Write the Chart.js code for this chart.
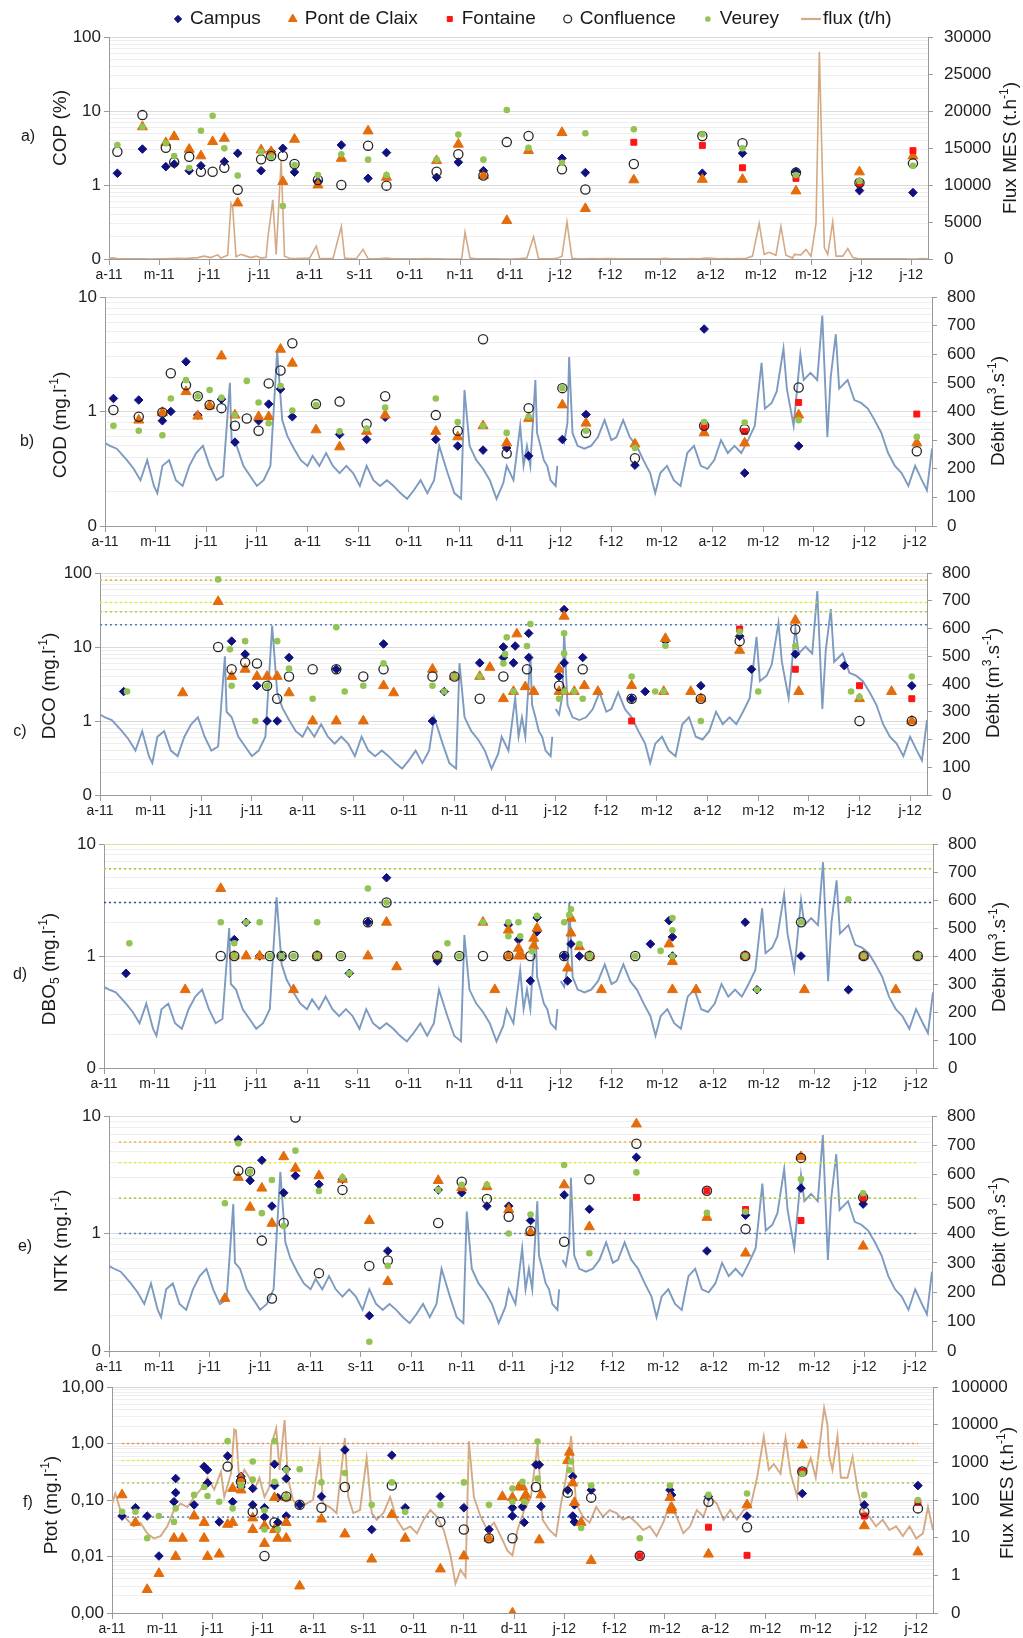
<!DOCTYPE html>
<html lang="fr">
<head>
<meta charset="utf-8">
<title>Isère - qualité de l'eau 2011-2012</title>
<script src="https://cdn.jsdelivr.net/npm/chart.js@4.4.1/dist/chart.umd.min.js"></script>
<style>
  html, body { margin: 0; padding: 0; background: #fff; }
  #page { position: relative; width: 1023px; height: 1638px; overflow: hidden; }
  #page canvas { position: absolute; left: 0; }
</style>
</head>
<body>
<div id="page">
  <canvas id="panneauA"></canvas>
  <canvas id="panneauB"></canvas>
  <canvas id="panneauC"></canvas>
  <canvas id="panneauD"></canvas>
  <canvas id="panneauE"></canvas>
  <canvas id="panneauF"></canvas>
</div>
<script>
// ---------- données (x = jours depuis le 7 avril 2011) ----------
const etiquettesX = ['a-11','m-11','j-11','j-11','a-11','s-11','o-11','n-11','d-11','j-12','f-12','m-12','a-12','m-12','m-12','j-12','j-12'];
const pasGraduation = 30;

// débit de l'Isère (m3/s)
const debitJours = [0,3,7,13,17,21,25,29,31,34,38,42,46,50,54,58,62,66,70,74,75,78,82,86,90,94,98,102,105,108,112,116,120,123,127,131,135,139,143,147,151,155,159,163,167,171,175,179,183,187,191,195,198,203,207,211,213,216,220,224,228,232,236,238,242,246,248,250,252,255,256,258,260,262,264,267,268,269,270,272,274,275,277,280,284,288,292,296,300,303,307,311,315,319,323,326,329,333,337,341,345,349,353,357,361,365,369,373,377,381,385,389,391,395,398,402,404,408,412,414,418,422,425,428,430,433,435,440,444,448,452,456,460,464,468,472,476,480,484,487,490];
const debitValeurs = [290,280,270,230,200,160,230,140,115,210,230,160,140,210,255,280,210,160,175,500,300,280,210,175,140,160,210,610,370,315,270,230,210,245,210,255,210,185,210,185,140,210,160,140,160,140,115,95,125,160,115,160,280,185,115,95,475,280,230,200,160,95,150,210,160,350,210,280,210,510,325,280,230,210,160,140,210,null,310,290,360,590,325,280,270,280,310,370,300,310,370,310,280,230,185,115,185,210,160,140,255,280,210,200,230,300,255,280,255,300,350,570,410,430,470,620,480,350,600,510,535,510,735,310,520,670,480,510,440,430,410,370,325,255,210,185,140,210,160,125,270];

// flux de MES (t/h)
const fluxJours = [0,2,5,9,13,17,21,25,29,33,37,41,45,49,53,57,61,65,67,71,73,74,76,79,82,85,88,91,94,95,98,100,103,105,108,112,116,120,124,126,130,134,139,141,144,148,152,155,158,162,166,170,174,178,182,186,190,194,198,202,205,208,211,213,216,220,224,228,232,236,239,242,246,250,254,257,261,265,268,271,274,277,281,285,289,293,297,301,305,309,313,317,321,325,329,333,337,341,345,349,353,357,361,365,369,373,377,381,385,389,392,395,399,402,405,409,410,414,417,420,423,425,427,428,430,433,435,439,442,445,448,452,456,460,464,468,472,476,480,484,487,490];
const fluxValeurs = [80,150,54,30,20,25,13,9.5,11,20,54,80,65,120,190,390,190,560,120,500,7500,7000,300,630,390,190,390,120,224,2800,8000,630,13300,390,100,65,80,100,1740,80,65,45,4400,120,45,54,1300,45,30,45,120,30,16,20,13,30,54,36,16,3.4,0.6,1.4,0.9,3600,120,36,16,25,11,4.5,3.4,16,54,120,3000,30,16,11,80,390,5000,80,36,25,65,36,54,45,30,36,25,16,20,11,25,80,36,13,20,54,36,120,80,30,54,30,54,65,390,4800,630,900,500,4400,500,120,630,560,1300,390,4800,28000,10000,1500,630,5000,390,390,1400,190,54,36,20,30,16,20,11,20,9.5,13,65,16];

// a) COP (%)
const copCampus = [[5,1.44],[20,3.06],[34,1.77],[39,1.92],[48,1.56],[55,1.82],[69,2.07],[77,2.68],[91,1.56],[97,2.82],[104,3.13],[111,1.49],[125,1.11],[139,3.47],[155,1.23],[166,2.74],[196,1.27],[209,2.03],[224,1.56],[271,2.29],[285,1.47],[355,1.44],[379,2.68],[411,1.51],[449,0.84],[481,0.79]];
const copPont = [[20,6.1],[34,3.73],[39,4.5],[48,3.03],[55,2.47],[62,3.85],[69,4.27],[77,0.57],[91,2.97],[97,2.82],[104,1.11],[111,4.14],[125,1.0],[139,2.29],[155,5.37],[166,1.27],[196,2.13],[209,3.55],[224,1.34],[238,0.33],[251,2.91],[271,5.1],[285,0.48],[314,1.17],[355,1.19],[379,1.19],[411,0.83],[449,1.5],[481,2.47]];
const copFontaine = [[314,3.78],[355,3.43],[379,1.71],[411,1.23],[449,1.03],[481,2.91]];
const copConfluence = [[5,2.82],[20,8.8],[34,3.19],[39,2.03],[48,2.41],[55,1.51],[62,1.51],[69,1.71],[77,0.86],[91,2.22],[97,2.47],[104,2.47],[111,1.92],[125,1.17],[139,1.0],[155,3.4],[166,0.98],[196,1.51],[209,2.6],[224,1.34],[238,3.8],[251,4.59],[271,1.63],[285,0.87],[314,1.92],[355,4.59],[379,3.66],[411,1.47],[449,1.07],[481,1.96]];
const copVeurey = [[5,3.47],[20,6.1],[34,3.66],[39,2.47],[48,1.7],[55,5.4],[62,8.6],[69,3.13],[77,1.34],[91,2.82],[97,2.41],[104,0.52],[111,1.86],[125,1.36],[139,2.6],[155,2.2],[166,1.36],[196,2.2],[209,4.8],[224,2.2],[238,10.3],[251,3.19],[271,2.0],[285,5.0],[314,5.65],[355,4.84],[379,3.13],[411,1.36],[449,1.13],[481,1.82]];

// b) COD (mg/l)
const codCampus = [[5,1.3],[20,1.26],[34,0.83],[39,1.0],[48,2.72],[55,0.93],[69,1.28],[77,0.54],[91,0.83],[97,1.16],[104,1.57],[111,0.9],[139,0.63],[155,0.57],[166,0.89],[196,0.57],[209,0.5],[224,0.46],[238,0.48],[251,0.41],[271,0.57],[285,0.94],[314,0.34],[355,5.25],[379,0.29],[411,0.5]];
const codPont = [[20,0.84],[34,0.98],[48,1.49],[55,0.91],[62,1.12],[69,3.05],[77,0.93],[91,0.9],[97,0.9],[104,3.49],[111,2.64],[125,0.69],[139,0.49],[155,0.67],[166,0.93],[196,0.67],[209,0.6],[224,0.75],[238,0.53],[251,0.87],[271,1.14],[285,0.79],[314,0.52],[355,0.65],[379,0.53],[411,0.93],[481,0.53]];
const codFontaine = [[355,0.74],[379,0.67],[411,1.2],[481,0.95]];
const codConfluence = [[5,1.03],[20,0.9],[34,0.98],[39,2.16],[48,1.7],[55,1.36],[62,1.14],[69,1.07],[77,0.75],[84,0.87],[91,0.68],[97,1.76],[104,2.28],[111,3.94],[125,1.16],[139,1.22],[155,0.78],[166,1.36],[196,0.93],[209,0.68],[224,4.27],[238,0.43],[251,1.07],[271,1.6],[285,0.65],[314,0.39],[355,0.75],[379,0.7],[411,1.62],[481,0.45]];
const codVeurey = [[5,0.75],[20,0.68],[34,0.62],[39,1.3],[48,1.88],[55,1.36],[62,1.54],[69,1.32],[77,0.93],[84,1.85],[91,1.2],[97,0.79],[104,1.67],[111,1.02],[125,1.14],[139,0.67],[155,0.71],[166,1.08],[196,1.3],[209,0.81],[224,0.75],[238,0.65],[251,0.9],[271,1.6],[285,0.68],[314,0.48],[355,0.81],[379,0.8],[411,0.84],[481,0.6]];

// c) DCO (mg/l)
const dcoCampus = [[14,2.5],[78,12],[86,8],[93,3],[99,1],[105,1],[112,7.2],[140,5],[168,11],[197,1],[204,2.5],[225,6.1],[239,10],[239,7.2],[245,6.1],[246,10.3],[254,15.3],[254,7.2],[272,4],[275,32],[275,6.1],[286,7.2],[315,2],[323,2.5],[335,12],[356,3],[379,14],[386,5],[412,8],[441,5.6],[481,3]];
const dcoPont = [[49,2.4],[70,41],[78,4],[86,5],[93,4],[99,4],[105,4],[112,2.4],[126,1],[140,1],[156,1],[168,3],[174,2.4],[197,5],[210,4],[225,4],[231,5.3],[239,2],[245,2.5],[247,15],[252,2.9],[257,2.5],[272,5],[272,2.5],[275,26],[275,2.5],[281,2.5],[287,3],[295,2.5],[315,3],[334,2.5],[335,13],[350,2.5],[356,2],[379,9],[412,23],[414,2.5],[450,2],[469,2.5],[481,1]];
const dcoFontaine = [[315,1],[379,17.5],[412,5],[450,3],[481,2]];
const dcoConfluence = [[70,10],[78,5],[86,6.2],[93,6],[99,3],[105,2],[112,4],[126,5],[140,5],[156,4],[168,5],[197,4],[210,4],[225,2],[239,4],[253,5],[272,3],[286,5],[315,2],[356,2],[379,12],[412,17.4],[450,1],[481,1]];
const dcoVeurey = [[16,2.5],[70,82],[77,9.3],[78,3],[86,12],[92,1],[99,3],[105,12],[112,5.1],[126,2],[140,18.5],[145,2.5],[156,3],[168,6],[197,3],[204,2.5],[210,4],[225,4],[239,6],[240,8],[241,13.5],[245,2.5],[253,10.3],[255,20.4],[272,2],[275,15.3],[275,8.2],[275,2.5],[281,2.5],[286,2],[315,4],[329,2.5],[334,2.5],[335,10.4],[356,1],[379,16],[390,2.5],[412,10.3],[445,2.5],[450,2.1],[481,4]];
const dcoSeuils = [80, 40, 30, 20];

// d) DBO5 (mg/l)
const dboCampus = [[13,0.7],[77,1.4],[84,2],[92,1],[105,1],[126,1],[145,0.7],[156,2],[167,5],[197,0.9],[239,1.9],[245,1.4],[252,0.6],[256,2.2],[256,1.65],[272,1],[274,0.6],[276,1.28],[281,1],[323,1.28],[334,2.07],[336,1.48],[336,1],[379,2],[386,0.5],[412,1],[440,0.5],[449,1],[481,1]];
const dboPont = [[48,0.5],[69,4],[77,1],[84,1],[92,1],[112,0.5],[126,1],[156,1],[167,2],[173,0.8],[197,1],[224,2],[231,0.5],[239,1.7],[239,1],[245,1.17],[245,1],[247,1],[254,1.44],[254,1.23],[256,1.77],[274,0.78],[276,1.6],[276,2.17],[281,1.21],[287,1],[294,0.5],[334,1.28],[336,0.89],[336,0.5],[350,0.5],[379,1],[414,0.5],[449,1],[468,0.5],[481,1]];
const dboFontaine = [[379,1],[449,1]];
const dboConfluence = [[69,1],[77,1],[98,1],[105,1],[112,1],[126,1],[140,1],[156,2],[167,3],[197,1],[210,1],[224,1],[239,1],[252,1],[272,1],[287,1],[314,1],[379,1],[412,2],[449,1],[481,1]];
const dboVeurey = [[15,1.3],[69,2],[77,1.3],[77,1],[84,2],[92,2],[98,1],[105,1],[112,1],[126,2],[126,1],[140,1],[145,0.7],[156,4],[167,3],[197,1],[203,1.3],[210,1],[224,2],[239,2],[239,1.5],[245,2],[246,1.5],[253,1.1],[256,2.28],[272,2],[275,2.32],[276,2.61],[281,1.28],[287,1],[314,1],[329,1.11],[336,2.18],[336,1],[336,1.7],[379,1],[386,0.5],[412,2],[440,3.2],[449,1],[481,1]];
const dboSeuils = [10, 6, 3];

// e) NTK (mg/l)
const ntkCampus = [[77,6.3],[84,2.82],[91,4.2],[97,1.71],[104,2.22],[111,3.1],[125,2.62],[139,2.89],[155,0.2],[166,0.71],[196,2.35],[210,2.22],[225,1.71],[238,1.71],[251,1.29],[271,2.13],[286,1.61],[314,4.45],[356,0.71],[379,1.43],[412,2.43],[449,1.78]];
const ntkPont = [[69,0.28],[77,3.0],[84,1.67],[91,2.43],[97,1.22],[104,4.5],[111,3.59],[125,3.1],[139,2.89],[155,1.29],[166,0.39],[196,2.82],[210,2.45],[225,2.5],[238,1.6],[251,1.02],[271,2.59],[286,1.14],[314,8.55],[356,1.37],[379,0.68],[412,4.5],[449,0.78]];
const ntkFontaine = [[314,2.03],[356,2.31],[379,1.6],[412,1.29],[449,1.99]];
const ntkConfluence = [[77,3.43],[84,3.36],[91,0.87],[97,0.28],[104,1.23],[111,9.7],[125,0.46],[139,2.35],[155,0.53],[166,0.59],[196,1.23],[210,2.76],[225,1.97],[238,1.39],[251,1.05],[271,0.85],[286,2.89],[314,5.8],[356,2.31],[379,1.09],[412,4.4],[449,2.03]];
const ntkVeurey = [[69,1.81],[77,5.85],[84,3.36],[91,1.49],[97,2.85],[104,1.16],[111,5.07],[125,2.3],[139,3.0],[155,0.12],[166,0.53],[196,2.35],[210,2.6],[225,2.6],[238,1.0],[251,1.45],[271,3.83],[286,0.68],[314,3.31],[356,1.5],[379,1.53],[412,2.9],[449,2.2]];
const ntkSeuils = [6, 4, 2, 1];

// f) Ptot (mg/l)
const ptotCampus = [[6,0.052],[14,0.073],[21,0.052],[28,0.0102],[37,0.093],[38,0.135],[38,0.24],[49,0.082],[55,0.39],[57,0.34],[57,0.2],[64,0.041],[69,0.6],[72,0.093],[77,0.26],[77,0.17],[84,0.082],[84,0.16],[91,0.073],[91,0.05],[97,0.43],[97,0.18],[99,0.04],[99,0.11],[104,0.35],[104,0.24],[104,0.052],[112,0.082],[125,0.115],[139,0.77],[155,0.03],[167,0.62],[175,0.073],[196,0.115],[210,0.073],[225,0.03],[239,0.073],[239,0.052],[245,0.076],[246,0.04],[253,0.42],[255,0.42],[256,0.077],[272,0.15],[275,0.26],[275,0.052],[276,0.041],[276,0.082],[286,0.15],[333,0.15],[334,0.123],[356,0.115],[379,0.052],[412,0.13],[449,0.082],[481,0.18]];
const ptotPont = [[6,0.123],[14,0.04],[21,0.0026],[28,0.005],[37,0.021],[38,0.01],[42,0.021],[49,0.052],[55,0.04],[55,0.021],[57,0.01],[64,0.011],[69,0.037],[72,0.16],[72,0.04],[77,0.24],[77,0.15],[84,0.03],[84,0.048],[91,0.035],[91,0.017],[97,0.11],[97,0.03],[99,0.021],[104,0.11],[104,0.04],[104,0.021],[112,0.003],[125,0.046],[139,0.025],[155,0.009],[167,0.055],[175,0.021],[196,0.006],[210,0.0102],[225,0.021],[233,0.115],[239,0.001],[239,0.11],[243,0.17],[245,0.17],[246,0.11],[247,0.123],[255,0.0196],[256,0.123],[272,0.5],[273,0.7],[275,0.2],[276,0.09],[280,0.04],[286,0.0085],[333,0.11],[334,0.074],[334,0.066],[356,0.011],[379,0.082],[412,0.94],[449,0.035],[481,0.012]];
const ptotFontaine = [[315,0.0103],[356,0.033],[379,0.0105],[412,0.32],[449,0.052],[481,0.09]];
const ptotConfluence = [[69,0.39],[77,0.21],[84,0.062],[91,0.0102],[97,0.04],[104,0.115],[112,0.082],[125,0.073],[139,0.17],[167,0.18],[196,0.041],[210,0.03],[225,0.021],[239,0.021],[253,0.17],[272,0.135],[286,0.11],[315,0.0103],[356,0.093],[379,0.033],[412,0.32],[449,0.062],[481,0.071]];
const ptotVeurey = [[6,0.062],[14,0.062],[21,0.021],[28,0.052],[37,0.041],[38,0.071],[49,0.123],[55,0.17],[57,0.118],[64,0.093],[69,1.1],[72,0.071],[77,0.18],[84,0.48],[84,0.23],[91,0.03],[91,0.066],[97,1.1],[97,0.21],[99,0.03],[104,0.115],[104,0.34],[112,0.35],[125,0.205],[139,0.3],[155,0.082],[167,0.205],[175,0.062],[196,0.082],[210,0.205],[225,0.082],[239,0.16],[239,0.093],[245,0.21],[246,0.093],[254,1.08],[254,0.24],[273,0.34],[274,0.48],[280,0.032],[286,0.18],[315,0.021],[333,0.18],[356,0.123],[379,0.13],[412,0.29],[449,0.123],[481,0.1]];
const ptotSeuils = [1, 0.5, 0.2, 0.05];

// ---------- styles ----------
const police = 'Arial, "Liberation Sans", Helvetica, sans-serif';
Chart.defaults.font.family = police;
Chart.defaults.color = '#222';

const couleurDebit = '#7d9ac1';
const couleurFlux = '#d4aa86';
const couleurAxe = '#9a9a9a';

const styles = {
  campus:     { label: 'Campus',        forme: 'rectRot',  r: 4.3, fond: '#10107f', bord: '#10107f', ep: 1 },
  pont:       { label: 'Pont de Claix', forme: 'triangle', r: 5.8, fond: '#e46c0a', bord: '#e46c0a', ep: 1 },
  fontaine:   { label: 'Fontaine',      forme: 'rect',     r: 4.2, fond: '#ff1414', bord: '#ff1414', ep: 1 },
  confluence: { label: 'Confluence',    forme: 'circle',   r: 4.6, fond: 'rgba(255,255,255,0)', bord: '#262626', ep: 1.3 },
  veurey:     { label: 'Veurey',        forme: 'circle',   r: 3.3, fond: '#92c353', bord: '#92c353', ep: 0 }
};
const couleursSeuils4 = ['#f2b324', '#ecec1c', '#b2d03c', '#4f7fc0'];
const couleursDbo = ['#ecec1c', '#b2d03c', '#2f519f'];
const couleursPtot = ['#f08a4b', '#ecec1c', '#a8c84c', '#4f7fc0'];

// ---------- outils ----------
function enPoints(paires) { return paires.map(p => ({ x: p[0], y: p[1] })); }
function enSerie(jours, valeurs) { return jours.map((j, i) => ({ x: j, y: valeurs[i] })); }
function estDecade(v) { const l = Math.log10(v); return Math.abs(l - Math.round(l)) < 1e-6; }

function graduationsLog(min, max, mineures) {
  const res = [];
  for (let e = Math.round(Math.log10(min)); e <= Math.round(Math.log10(max)); e++) {
    const d = Math.pow(10, e);
    if (!mineures) { res.push(d); continue; }
    for (let k = 1; k <= 9; k++) {
      const v = +(k * d).toPrecision(6);
      if (v <= max * 1.0001) res.push(v);
    }
  }
  return res;
}

function nuage(st, paires) {
  return {
    label: st.label, data: enPoints(paires), yAxisID: 'y', showLine: false,
    pointStyle: st.forme, pointRadius: st.r, pointBackgroundColor: st.fond,
    pointBorderColor: st.bord, pointBorderWidth: st.ep
  };
}

function courbe(c) {
  return {
    label: c.label, data: enSerie(c.jours, c.valeurs), yAxisID: 'y1', showLine: true,
    spanGaps: false, borderColor: c.couleur, borderWidth: c.epaisseur, pointRadius: 0, tension: 0
  };
}

function seuil(v, couleur, debut, fin) {
  return {
    label: 'seuil ' + v, data: [{ x: debut, y: v }, { x: fin, y: v }], yAxisID: 'y', showLine: true,
    borderColor: couleur, borderWidth: 1.6, borderDash: [2, 3], pointRadius: 0
  };
}

function marque(ctx, st, x, y, k) {
  const r = st.r * k;
  ctx.beginPath();
  if (st.forme === 'rectRot') {
    ctx.moveTo(x, y - r); ctx.lineTo(x + r, y); ctx.lineTo(x, y + r); ctx.lineTo(x - r, y);
  } else if (st.forme === 'triangle') {
    ctx.moveTo(x, y - r); ctx.lineTo(x + 0.866 * r, y + 0.5 * r); ctx.lineTo(x - 0.866 * r, y + 0.5 * r);
  } else if (st.forme === 'rect') {
    const s = r * Math.SQRT1_2; ctx.rect(x - s, y - s, 2 * s, 2 * s);
  } else {
    ctx.arc(x, y, r, 0, Math.PI * 2);
  }
  ctx.closePath();
  ctx.fillStyle = st.fond; ctx.fill();
  if (st.ep > 0) { ctx.lineWidth = st.ep; ctx.strokeStyle = st.bord; ctx.stroke(); }
}

// "^{..}" = exposant, "_{..}" = indice
function decouper(t) {
  const out = []; const re = /([\^_])\{([^}]*)\}/g; let last = 0, m;
  while ((m = re.exec(t))) {
    if (m.index > last) out.push({ t: t.slice(last, m.index), k: '' });
    out.push({ t: m[2], k: m[1] });
    last = re.lastIndex;
  }
  if (last < t.length) out.push({ t: t.slice(last), k: '' });
  return out;
}

function texteVertical(ctx, texte, cx, cy) {
  const morceaux = decouper(texte);
  const police1 = m => (m.k ? 12 : 19) + 'px ' + police;
  let total = 0;
  morceaux.forEach(m => { ctx.font = police1(m); m.w = ctx.measureText(m.t).width; total += m.w; });
  ctx.save();
  ctx.translate(cx, cy); ctx.rotate(-Math.PI / 2);
  ctx.textAlign = 'left'; ctx.textBaseline = 'alphabetic'; ctx.fillStyle = '#1a1a1a';
  let x = -total / 2;
  morceaux.forEach(m => {
    ctx.font = police1(m);
    const dy = m.k === '^' ? -1 : (m.k === '_' ? 11 : 7);
    ctx.fillText(m.t, x, dy);
    x += m.w;
  });
  ctx.restore();
}

function dessinerLegende(ctx, y) {
  ctx.font = '19px ' + police; ctx.textBaseline = 'middle'; ctx.textAlign = 'left';
  let x = 178;
  ['campus', 'pont', 'fontaine', 'confluence', 'veurey'].forEach(k => {
    const st = styles[k];
    marque(ctx, st, x, y, 0.85);
    ctx.fillStyle = '#1a1a1a';
    ctx.fillText(st.label, x + 12, y);
    x += 12 + ctx.measureText(st.label).width + 32;
  });
  const x0 = x - 32 + 22;
  ctx.beginPath(); ctx.moveTo(x0, y); ctx.lineTo(x0 + 20, y);
  ctx.strokeStyle = couleurFlux; ctx.lineWidth = 2.2; ctx.stroke();
  ctx.fillStyle = '#1a1a1a';
  ctx.fillText('flux (t/h)', x0 + 22, y);
}

// ---------- panneaux ----------
const etiquetteZero = v => v < 1 ? '0' : String(v);
const etiquetteVirgule = v => v.toFixed(2).replace('.', ',');

const courbeDebit = { label: 'débit', jours: debitJours, valeurs: debitValeurs, couleur: couleurDebit, epaisseur: 1.9 };

const panneaux = [
  { id: 'panneauA', zone: [37, 259], gauche: 109, droite: 928, lettre: 'a)', lettreXY: [28, 137],
    titreG: 'COP (%)', titreGXY: [59, 128], titreD: 'Flux MES (t.h^{-1})', titreDXY: [1009, 148],
    gMin: 0.1, gMax: 100, etiquetteG: etiquetteZero, dLog: false, dMin: 0, dMax: 30000, dPas: 5000, dPad: 11,
    courbe: { label: 'flux (t/h)', jours: fluxJours, valeurs: fluxValeurs, couleur: couleurFlux, epaisseur: 1.6 },
    mesures: { campus: copCampus, pont: copPont, fontaine: copFontaine, confluence: copConfluence, veurey: copVeurey },
    seuils: [], couleursSeuils: [], legende: true },
  { id: 'panneauB', zone: [297, 526], gauche: 105, droite: 932, lettre: 'b)', lettreXY: [27, 442],
    titreG: 'COD (mg.l^{-1})', titreGXY: [59, 425], titreD: 'Débit (m^{3}.s^{-1})', titreDXY: [997, 411],
    gMin: 0.1, gMax: 10, etiquetteG: etiquetteZero, dLog: false, dMin: 0, dMax: 800, dPas: 100, dPad: 10,
    courbe: courbeDebit,
    mesures: { campus: codCampus, pont: codPont, fontaine: codFontaine, confluence: codConfluence, veurey: codVeurey },
    seuils: [], couleursSeuils: [] },
  { id: 'panneauC', zone: [573, 795], gauche: 100, droite: 927, lettre: 'c)', lettreXY: [20, 732],
    titreG: 'DCO (mg.l^{-1})', titreGXY: [48, 686], titreD: 'Débit (m^{3}.s^{-1})', titreDXY: [992, 683],
    gMin: 0.1, gMax: 100, etiquetteG: etiquetteZero, dLog: false, dMin: 0, dMax: 800, dPas: 100, dPad: 10,
    courbe: courbeDebit,
    mesures: { campus: dcoCampus, pont: dcoPont, fontaine: dcoFontaine, confluence: dcoConfluence, veurey: dcoVeurey },
    seuils: dcoSeuils, couleursSeuils: couleursSeuils4, seuilDebut: 0, seuilFin: 490 },
  { id: 'panneauD', zone: [844, 1068], gauche: 104, droite: 933, lettre: 'd)', lettreXY: [20, 975],
    titreG: 'DBO_{5} (mg.l^{-1})', titreGXY: [48, 969], titreD: 'Débit (m^{3}.s^{-1})', titreDXY: [998, 957],
    gMin: 0.1, gMax: 10, etiquetteG: etiquetteZero, dLog: false, dMin: 0, dMax: 800, dPas: 100, dPad: 10,
    courbe: courbeDebit,
    mesures: { campus: dboCampus, pont: dboPont, fontaine: dboFontaine, confluence: dboConfluence, veurey: dboVeurey },
    seuils: dboSeuils, couleursSeuils: couleursDbo, seuilDebut: 0, seuilFin: 490 },
  { id: 'panneauE', zone: [1116, 1351], gauche: 109, droite: 932, lettre: 'e)', lettreXY: [25, 1247],
    titreG: 'NTK (mg.l^{-1})', titreGXY: [60, 1241], titreD: 'Débit (m^{3}.s^{-1})', titreDXY: [998, 1232],
    gMin: 0.1, gMax: 10, etiquetteG: etiquetteZero, dLog: false, dMin: 0, dMax: 800, dPas: 100, dPad: 10,
    courbe: courbeDebit,
    mesures: { campus: ntkCampus, pont: ntkPont, fontaine: ntkFontaine, confluence: ntkConfluence, veurey: ntkVeurey },
    seuils: ntkSeuils, couleursSeuils: couleursSeuils4, seuilDebut: 6, seuilFin: 481 },
  { id: 'panneauF', zone: [1387, 1613], gauche: 112, droite: 933, lettre: 'f)', lettreXY: [28, 1503],
    titreG: 'Ptot (mg.l^{-1})', titreGXY: [50, 1505], titreD: 'Flux MES (t.h^{-1})', titreDXY: [1006, 1493],
    gMin: 0.001, gMax: 10, etiquetteG: etiquetteVirgule, dLog: true, dMin: 0.1, dMax: 100000, dPad: 13,
    courbe: { label: 'flux (t/h)', jours: fluxJours, valeurs: fluxValeurs, couleur: couleurFlux, epaisseur: 1.9 },
    mesures: { campus: ptotCampus, pont: ptotPont, fontaine: ptotFontaine, confluence: ptotConfluence, veurey: ptotVeurey },
    seuils: ptotSeuils, couleursSeuils: couleursPtot, seuilDebut: 6, seuilFin: 481 }
];

function decorPour(p, haut) {
  return {
    id: 'decor',
    afterDraw(chart) {
      const ctx = chart.ctx;
      ctx.save();
      ctx.font = '16px ' + police; ctx.fillStyle = '#1a1a1a';
      ctx.textAlign = 'center'; ctx.textBaseline = 'middle';
      ctx.fillText(p.lettre, p.lettreXY[0], p.lettreXY[1] - haut);
      texteVertical(ctx, p.titreG, p.titreGXY[0], p.titreGXY[1] - haut);
      texteVertical(ctx, p.titreD, p.titreDXY[0], p.titreDXY[1] - haut);
      if (p.legende) dessinerLegende(ctx, 19 - haut);
      ctx.restore();
    }
  };
}

function panneau(p) {
  const canvas = document.getElementById(p.id);
  const marge = 30, basAxe = 34;
  const haut = p.zone[0] - marge;
  canvas.width = 1023;
  canvas.height = p.zone[1] - p.zone[0] + marge + basAxe;
  canvas.style.top = haut + 'px';

  const m = p.mesures;
  const jeux = [
    nuage(styles.veurey, m.veurey),
    nuage(styles.confluence, m.confluence),
    nuage(styles.fontaine, m.fontaine),
    nuage(styles.pont, m.pont),
    nuage(styles.campus, m.campus)
  ];
  p.seuils.forEach((v, i) => jeux.push(seuil(v, p.couleursSeuils[i], p.seuilDebut, p.seuilFin)));
  jeux.push(courbe(p.courbe));

  const grad = { tickLength: 5, color: couleurAxe, drawOnChartArea: false };
  const axeDroit = p.dLog ? {
    type: 'logarithmic', min: p.dMin, max: p.dMax,
    afterBuildTicks: s => { s.ticks = graduationsLog(p.dMin, p.dMax, false).map(v => ({ value: v })); },
    ticks: { padding: p.dPad, font: { size: 17 }, color: '#222', callback: v => etiquetteZero(v) }
  } : {
    type: 'linear', min: p.dMin, max: p.dMax,
    ticks: { stepSize: p.dPas, padding: p.dPad, font: { size: 17 }, color: '#222', callback: v => String(v) }
  };
  Object.assign(axeDroit, {
    position: 'right',
    afterFit: s => { s.width = 1023 - p.droite; },
    grid: grad,
    border: { color: couleurAxe }
  });

  new Chart(canvas, {
    type: 'scatter',
    data: { datasets: jeux },
    options: {
      responsive: false, animation: false, events: [],
      layout: { padding: { top: marge, bottom: 0, left: 0, right: 0 } },
      plugins: { legend: { display: false }, tooltip: { enabled: false } },
      scales: {
        x: {
          type: 'linear', min: 0, max: 490,
          afterBuildTicks: s => { s.ticks = etiquettesX.map((_, i) => ({ value: i * pasGraduation })); },
          afterFit: s => { s.height = basAxe; },
          ticks: { autoSkip: false, maxRotation: 0, minRotation: 0, padding: 2, color: '#222',
                   font: { size: 14 }, callback: (v, i) => etiquettesX[i] },
          grid: { drawOnChartArea: false, tickLength: 6, color: couleurAxe },
          border: { color: couleurAxe }
        },
        y: {
          type: 'logarithmic', position: 'left', min: p.gMin, max: p.gMax,
          afterBuildTicks: s => { s.ticks = graduationsLog(p.gMin, p.gMax, true).map(v => ({ value: v })); },
          afterFit: s => { s.width = p.gauche; },
          ticks: { autoSkip: false, padding: 3, color: '#222', font: { size: 17 },
                   callback: v => estDecade(v) ? p.etiquetteG(v) : '' },
          grid: {
            tickLength: 5, lineWidth: 1,
            color: c => (c.tick && estDecade(c.tick.value)) ? '#dadada' : '#eeeeee',
            tickColor: c => (c.tick && estDecade(c.tick.value)) ? couleurAxe : 'rgba(0,0,0,0)'
          },
          border: { color: couleurAxe }
        },
        y1: axeDroit
      }
    },
    plugins: [decorPour(p, haut)]
  });
}

panneaux.forEach(panneau);
</script>
</body>
</html>
